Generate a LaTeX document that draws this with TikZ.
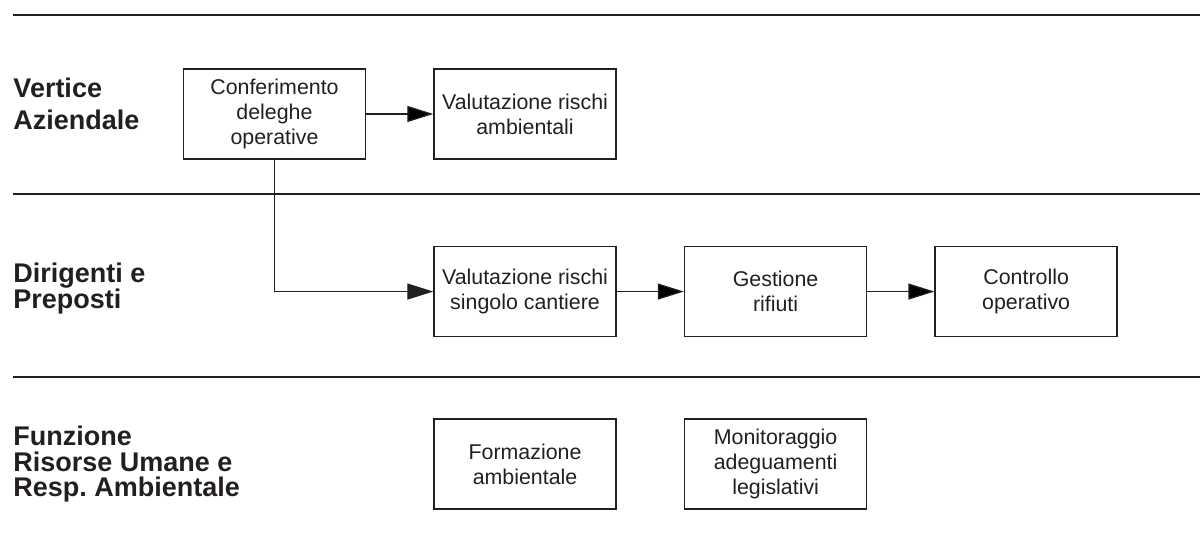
\documentclass[tikz,border=0pt]{standalone}
\usepackage{fontspec}
\setmainfont{Liberation Sans}
\usetikzlibrary{arrows.meta,positioning}
\definecolor{inchiostro}{RGB}{35,31,32}
\frenchspacing
\tikzset{
    %Define standard arrow tip
    >={Triangle[length=18.5pt,width=11.4pt]},
    %Define style for boxes
    blocco/.style={
           rectangle,
           draw=inchiostro, line width=1.1pt,
           minimum width=4.55cm,
           minimum height=2.25cm,
           inner sep=2pt,
           text=inchiostro,
           font=\fontsize{15.2}{17.6}\selectfont,
           align=center},
    %Define style for role labels
    ruolo/.style={
           anchor=north west,
           inner sep=0pt,
           align=left,
           text=inchiostro,
           font=\fontsize{19.2}{18.2}\selectfont\bfseries},
    % Define arrow style
    freccia/.style={
           ->,
           draw=inchiostro,
           line width=0.9pt},
    % Define style for lane separators
    separa/.style={
           draw=inchiostro,
           line width=0.9pt}
}

\begin{document}
\begin{tikzpicture}[node distance=1.675cm]
\useasboundingbox (0,0) rectangle (30,-13.375);

 %lanes
\foreach \y in {-0.375,-4.85,-9.425}
    \draw[separa] (0.325,\y) -- (30,\y);

 %roles
\node[ruolo, font=\fontsize{19.2}{22.8}\selectfont\bfseries] (vertice) at (0.33,-1.94) {Vertice\\Aziendale};
\node[ruolo] (dirigenti) at (0.33,-6.57) {Dirigenti e\\Preposti};
\node[ruolo] (funzione) at (0.33,-10.64) {Funzione\\Risorse Umane e\\Resp. Ambientale};

 %nodes
\node[blocco] (conf) at (6.8625,-2.85) {Conferimento\\deleghe\\operative};
\node[blocco, right=of conf] (valamb) {Valutazione rischi\\ambientali};
\node[blocco, below=2.15cm of valamb] (valcant) {Valutazione rischi\\singolo cantiere};
\node[blocco, right=of valcant] (gestrif) {Gestione\\rifiuti};
\node[blocco, right=of gestrif] (contop) {Controllo\\operativo};
\node[blocco, below=2.025cm of valcant] (form) {Formazione\\ambientale};
\node[blocco, right=of form] (monit) {Monitoraggio\\adeguamenti\\legislativi};

 %connectors
\path[freccia]
    (conf) edge (valamb)
    (valcant) edge (gestrif)
    (gestrif) edge (contop);
\draw[freccia] (conf) |- (valcant);

\end{tikzpicture}
\end{document}
